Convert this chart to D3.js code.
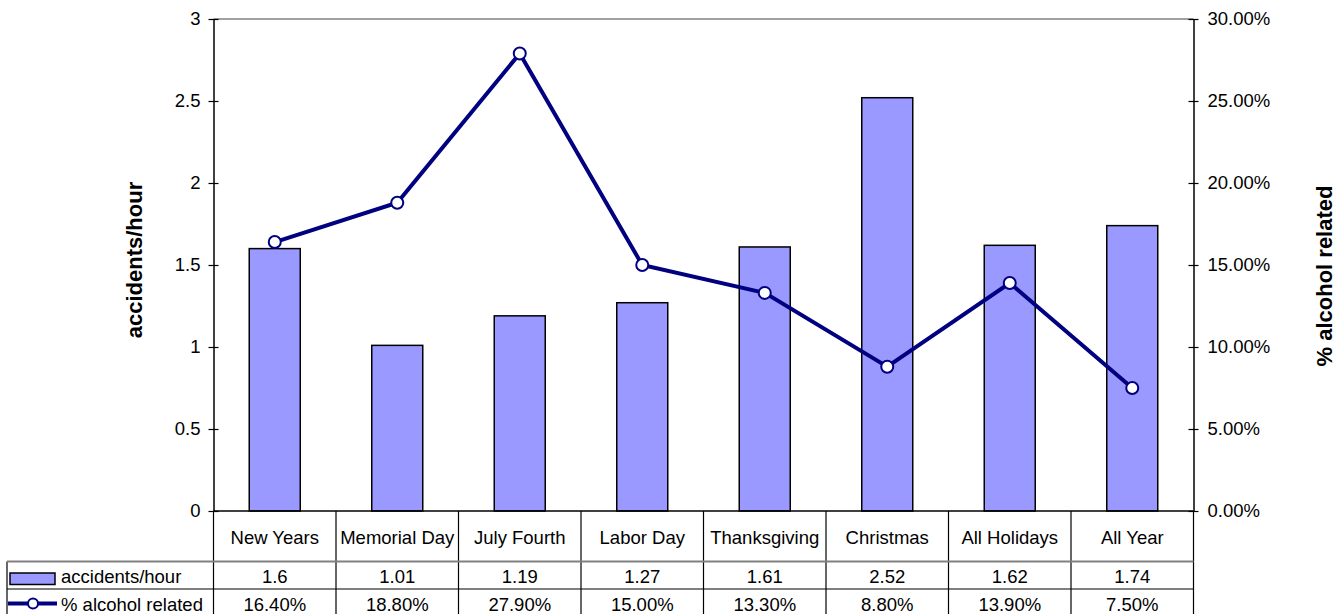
<!DOCTYPE html>
<html><head><meta charset="utf-8">
<script src="https://cdn.jsdelivr.net/npm/d3@7"></script>
<style>body{margin:0;background:#fff}svg{display:block;font-family:"Liberation Sans",Arial,sans-serif}</style>
</head><body>
<svg id="c" width="1338" height="614"></svg>
<script>
const categories = ["New Years","Memorial Day","July Fourth","Labor Day","Thanksgiving","Christmas","All Holidays","All Year"];
const accidents = [1.6,1.01,1.19,1.27,1.61,2.52,1.62,1.74];
const alcohol = [0.164,0.188,0.279,0.150,0.133,0.088,0.139,0.075];
const accidentLabels = ["1.6","1.01","1.19","1.27","1.61","2.52","1.62","1.74"];
const alcoholLabels = ["16.40%","18.80%","27.90%","15.00%","13.30%","8.80%","13.90%","7.50%"];
const leftTicks = [0,0.5,1,1.5,2,2.5,3];
const rightTicks = [0,0.05,0.10,0.15,0.20,0.25,0.30];
const seriesNames = ["accidents/hour","% alcohol related"];

const svg = d3.select("#c");
const L = 213.5, R = 1193.5, T = 19, B = 511;
const x = d3.scaleBand().domain(categories).range([L,R]).paddingInner(0).paddingOuter(0);
const yL = d3.scaleLinear().domain([0,3]).range([B,T]);
const yR = d3.scaleLinear().domain([0,0.3]).range([B,T]);
const barW = 51;
const navy = "#000080";
const fs = 18.5;
const ff = "Liberation Sans, Arial, sans-serif";

// top border
svg.append("line").attr("x1",L).attr("x2",R).attr("y1",T).attr("y2",T).attr("stroke","#808080").attr("stroke-width",1.5);

// bars
svg.append("g").selectAll("rect").data(categories).join("rect")
  .attr("x",d=>x(d)+x.bandwidth()/2-barW/2)
  .attr("width",barW)
  .attr("y",(d,i)=>yL(accidents[i]))
  .attr("height",(d,i)=>B-yL(accidents[i]))
  .attr("fill","#9999FF").attr("stroke","#000").attr("stroke-width",1.5);

// axes
const gl = svg.append("g").attr("transform",`translate(${L},0)`)
  .call(d3.axisLeft(yL).tickValues(leftTicks).tickFormat(d3.format("")).tickSizeInner(5).tickSizeOuter(0).tickPadding(8));
gl.select(".domain").attr("stroke","#000").attr("stroke-width",1.5);
gl.selectAll(".tick line").attr("stroke","#000").attr("x2",-5).attr("x1",5).attr("stroke-width",1.2);
gl.selectAll(".tick text").attr("font-size",fs).attr("fill","#000").attr("font-family",ff);

const gr = svg.append("g").attr("transform",`translate(${R},0)`)
  .call(d3.axisRight(yR).tickValues(rightTicks).tickFormat(d3.format(".2%")).tickSizeInner(5).tickSizeOuter(0).tickPadding(9));
gr.select(".domain").attr("stroke","#000").attr("stroke-width",1.5);
gr.selectAll(".tick line").attr("stroke","#000").attr("x1",-5).attr("x2",5).attr("stroke-width",1.2);
gr.selectAll(".tick text").attr("font-size",fs).attr("fill","#000").attr("font-family",ff);

// x baseline
svg.append("line").attr("x1",L).attr("x2",R).attr("y1",B).attr("y2",B).attr("stroke","#000").attr("stroke-width",1.5);

// line series
const line = d3.line().x((d,i)=>x(categories[i])+x.bandwidth()/2).y(d=>yR(d));
svg.append("path").datum(alcohol).attr("d",line).attr("fill","none").attr("stroke",navy).attr("stroke-width",4).attr("stroke-linejoin","miter");
svg.append("g").selectAll("circle").data(alcohol).join("circle")
  .attr("cx",(d,i)=>x(categories[i])+x.bandwidth()/2).attr("cy",d=>yR(d)).attr("r",6)
  .attr("fill","#fff").attr("stroke",navy).attr("stroke-width",2);

// axis titles
svg.append("text").attr("transform","translate(142,260) rotate(-90)").attr("text-anchor","middle")
  .attr("font-size",22).attr("font-weight","bold").text("accidents/hour");
svg.append("text").attr("transform","translate(1332,276) rotate(-90)").attr("text-anchor","middle")
  .attr("font-size",22).attr("font-weight","bold").text("% alcohol related");

// data table
const tL = 7, hB = 561.5, r1B = 589;
const tg = svg.append("g");
const bounds = categories.map(c=>x(c)).concat([R]);
tg.selectAll("line.v").data(bounds).join("line")
  .attr("x1",d=>d).attr("x2",d=>d).attr("y1",B).attr("y2",614).attr("stroke","#000").attr("stroke-width",1.2);
tg.append("line").attr("x1",tL).attr("x2",tL).attr("y1",hB).attr("y2",614).attr("stroke","#000").attr("stroke-width",1.2);
tg.append("line").attr("x1",tL).attr("x2",R).attr("y1",hB).attr("y2",hB).attr("stroke","#808080").attr("stroke-width",2);
tg.append("line").attr("x1",tL).attr("x2",R).attr("y1",r1B).attr("y2",r1B).attr("stroke","#000").attr("stroke-width",1.2);

tg.selectAll("text.h").data(categories).join("text")
  .attr("x",d=>x(d)+x.bandwidth()/2).attr("y",544).attr("text-anchor","middle").attr("font-size",fs).text(d=>d);
tg.selectAll("text.r1").data(accidentLabels).join("text")
  .attr("x",(d,i)=>x(categories[i])+x.bandwidth()/2).attr("y",583).attr("text-anchor","middle").attr("font-size",fs).text(d=>d);
tg.selectAll("text.r2").data(alcoholLabels).join("text")
  .attr("x",(d,i)=>x(categories[i])+x.bandwidth()/2).attr("y",611).attr("text-anchor","middle").attr("font-size",fs).text(d=>d);

// legend keys
tg.append("rect").attr("x",10).attr("y",573).attr("width",45).attr("height",11.5).attr("fill","#9999FF").attr("stroke","#000").attr("stroke-width",1.5);
tg.append("text").attr("x",61).attr("y",583).attr("font-size",fs).text(seriesNames[0]);
tg.append("line").attr("x1",8).attr("x2",57).attr("y1",603.5).attr("y2",603.5).attr("stroke",navy).attr("stroke-width",4);
tg.append("circle").attr("cx",33).attr("cy",603.5).attr("r",5).attr("fill","#fff").attr("stroke",navy).attr("stroke-width",2);
tg.append("text").attr("x",61).attr("y",611).attr("font-size",fs).text(seriesNames[1]);
</script>
</body></html>
